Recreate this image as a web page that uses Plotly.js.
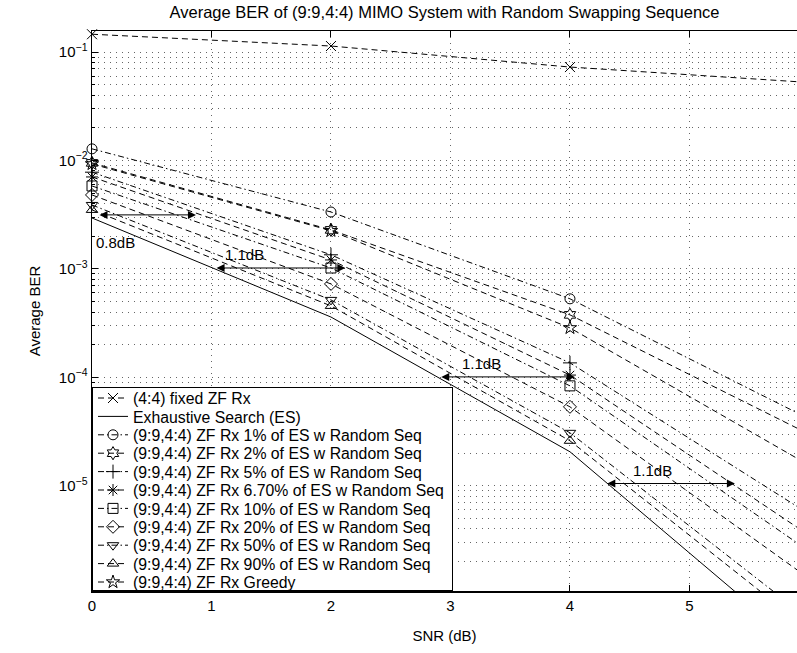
<!DOCTYPE html>
<html>
<head>
<meta charset="utf-8">
<script src="https://cdn.plot.ly/plotly-3.0.1.min.js"></script>
<style>html,body{margin:0;padding:0;background:#fff;}#chart{width:797px;height:653px;}</style>
</head>
<body>
<div id="chart"></div>
<script>
// ---- data ----
const snr = [0, 2, 4, 6];
const fixedZF = [0.146, 0.1136, 0.0727, 0.0524];
const es      = [2.95e-3, 3.6e-4, 2.06e-5, 2.8e-7];
const rs1     = [1.28e-2, 3.35e-3, 5.3e-4, 4.15e-5];
const rs2     = [9.5e-3, 2.29e-3, 3.77e-4, 3.0e-5];
const rs5     = [7.8e-3, 1.35e-3, 1.36e-4, 5.5e-6];
const rs67    = [7.05e-3, 1.21e-3, 1.05e-4, 3.5e-6];
const rs10    = [5.82e-3, 1.02e-3, 8.35e-5, 2.5e-6];
const rs20    = [4.81e-3, 7.27e-4, 5.35e-5, 1.4e-6];
const rs50    = [3.89e-3, 5.18e-4, 3.08e-5, 5.9e-7];
const rs90    = [3.5e-3, 4.56e-4, 2.6e-5, 4.7e-7];
const greedy  = [9.3e-3, 2.25e-3, 2.86e-4, 1.55e-5];

const names = [
  '(4:4) fixed ZF Rx',
  'Exhaustive Search (ES)',
  '(9:9,4:4) ZF Rx 1% of ES w Random Seq',
  '(9:9,4:4) ZF Rx 2% of ES w Random Seq',
  '(9:9,4:4) ZF Rx 5% of ES w Random Seq',
  '(9:9,4:4) ZF Rx 6.70% of ES w Random Seq',
  '(9:9,4:4) ZF Rx 10% of ES w Random Seq',
  '(9:9,4:4) ZF Rx 20% of ES w Random Seq',
  '(9:9,4:4) ZF Rx 50% of ES w Random Seq',
  '(9:9,4:4) ZF Rx 90% of ES w Random Seq',
  '(9:9,4:4) ZF Rx Greedy'
];
const yTickVals = [1e-5, 1e-4, 1e-3, 1e-2, 1e-1];
const yTickText = ['10<sup>\u22125</sup>','10<sup>\u22124</sup>','10<sup>\u22123</sup>','10<sup>\u22122</sup>','10<sup>\u22121</sup>'];
const xTickVals = [0,1,2,3,4,5];

const DASH = '6px,4px';
const DASHDOT = '6px,3px,1.5px,3px';

function tr(y, name, symbol, dash) {
  return {
    x: snr, y: y, name: name, type: 'scatter', mode: 'lines+markers',
    cliponaxis: false,
    line: {color: '#000', width: 1, dash: dash},
    marker: {symbol: symbol, size: 10, color: '#000', line: {color: '#000', width: 1}}
  };
}

const traces = [
  tr(fixedZF, names[0], 'x-thin-open', DASH),
  {x: snr, y: es, name: names[1], type: 'scatter', mode: 'lines', line: {color: '#000', width: 1}},
  tr(rs1, names[2], 'circle-open', DASHDOT),
  tr(rs2, names[3], 'hexagram-open', DASH),
  tr(rs5, names[4], 'cross-thin-open', DASHDOT),
  tr(rs67, names[5], 'asterisk-open', DASH),
  tr(rs10, names[6], 'square-open', DASHDOT),
  tr(rs20, names[7], 'diamond-open', DASH),
  tr(rs50, names[8], 'triangle-down-open', DASHDOT),
  tr(rs90, names[9], 'triangle-up-open', DASH),
  tr(greedy, names[10], 'star-open', DASH)
];

const FONT = 'Liberation Sans, Arial, Helvetica, sans-serif';
const L = Math.log10;

function arrow(x0, x1, y) {
  return {x: x1, y: L(y), ax: x0, ay: L(y), xref: 'x', yref: 'y', axref: 'x', ayref: 'y',
    text: '', showarrow: true, arrowside: 'end+start', arrowhead: 2, arrowsize: 1.6,
    arrowwidth: 1, arrowcolor: '#000', standoff: 0, startstandoff: 0};
}
function label(x, y, t) {
  return {x: x, y: L(y), xref: 'x', yref: 'y', text: t, showarrow: false,
    font: {family: FONT, size: 15, color: '#000'}};
}

const layout = {
  width: 797, height: 653,
  margin: {l: 92, r: 0, t: 31, b: 62},
  paper_bgcolor: '#fff', plot_bgcolor: '#fff',
  font: {family: FONT, size: 15, color: '#000'},
  title: {text: 'Average BER of (9:9,4:4) MIMO System with Random Swapping Sequence',
    xref: 'paper', x: 0.5, xanchor: 'center', yref: 'container', y: 0.981, yanchor: 'middle',
    font: {family: FONT, size: 16.5, color: '#000'}},
  showlegend: true,
  legend: {x: 0, y: 0, xanchor: 'left', yanchor: 'bottom', bgcolor: '#fff',
    bordercolor: '#000', borderwidth: 1, font: {family: FONT, size: 15.8, color: '#000'},
    traceorder: 'normal', itemwidth: 30},
  xaxis: {
    range: [0, 5.9], tickvals: xTickVals, ticks: 'inside', ticklen: 6, tickcolor: '#000',
    showline: true, linecolor: '#000', linewidth: 1.5, mirror: 'ticks',
    showgrid: true, gridcolor: '#666', gridwidth: 1, griddash: '1px,5px', zeroline: false,
    tickfont: {family: FONT, size: 15, color: '#000'},
    title: {text: 'SNR (dB)', standoff: 18, font: {family: FONT, size: 15, color: '#000'}}
  },
  yaxis: {
    type: 'log', range: [-5.97, -0.806], tickvals: yTickVals, ticktext: yTickText,
    ticks: 'inside', ticklen: 6, tickcolor: '#000',
    showline: true, linecolor: '#000', linewidth: 1.5, mirror: false,
    showgrid: true, gridcolor: '#666', gridwidth: 1, griddash: '1px,5px', zeroline: false,
    tickfont: {family: FONT, size: 15, color: '#000'},
    minor: {dtick: 'D1', ticks: 'inside', ticklen: 3, tickcolor: '#000', showgrid: true,
      gridcolor: '#666', gridwidth: 1, griddash: '1px,5px'},
    title: {text: 'Average BER', standoff: 14, font: {family: FONT, size: 15, color: '#000'}}
  },
  annotations: [
    arrow(0.05, 0.87, 3.15e-3),
    arrow(1.03, 2.12, 1.02e-3),
    arrow(2.91, 4.04, 1.01e-4),
    arrow(4.30, 5.38, 1.05e-5),
    label(0.2, 1.75e-3, '0.8dB'),
    label(1.28, 1.35e-3, '1.1dB'),
    label(3.26, 1.33e-4, '1.1dB'),
    label(4.69, 1.37e-5, '1.1dB')
  ]
};

Plotly.newPlot('chart', traces, layout, {displayModeBar: false, staticPlot: true}).then(function (gd) {
  // tighten legend rows to match the compact reference legend
  const leg = gd.querySelector('g.legend');
  if (!leg) return;
  const items = leg.querySelectorAll('g.traces');
  const rowH = 18.4, top = 387, firstCenter = 11, boxH = 204, boxW = 361;
  const m = /translate\(\s*([-\d.]+)[ ,]+([-\d.]+)/.exec(leg.getAttribute('transform') || '');
  const lx = m ? parseFloat(m[1]) : 92;
  leg.setAttribute('transform', 'translate(' + lx + ',' + top + ')');
  const bg = leg.querySelector('rect.bg');
  if (bg) { bg.setAttribute('height', boxH - 1); bg.setAttribute('width', boxW - 1); }
  items.forEach(function (g, i) {
    const t = /translate\(\s*([-\d.]+)[ ,]+([-\d.]+)/.exec(g.getAttribute('transform') || '');
    const ix = t ? parseFloat(t[1]) : 1;
    g.setAttribute('transform', 'translate(' + ix + ',' + (firstCenter + i * rowH) + ')');
  });
});
</script>
</body>
</html>
